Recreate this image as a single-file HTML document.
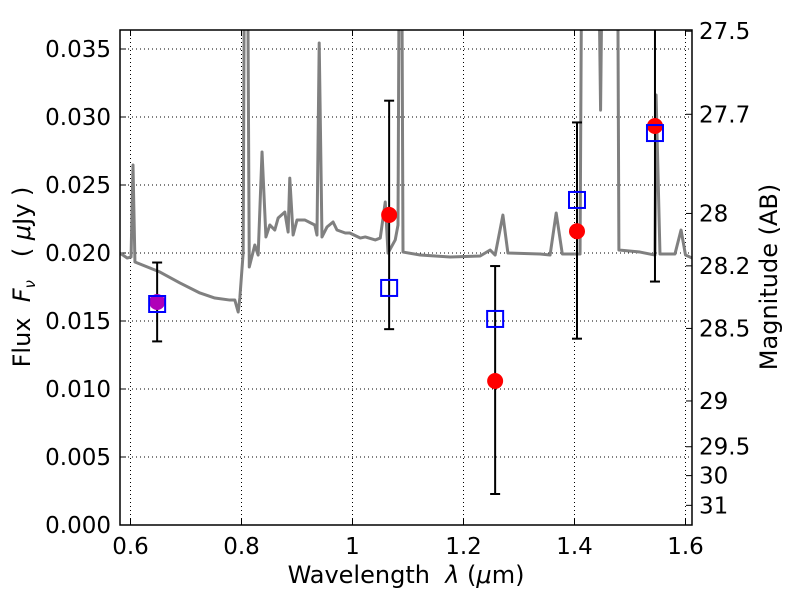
<!DOCTYPE html>
<html><head><meta charset="utf-8"><style>
body{margin:0;background:#fff}
svg text{font-family:"DejaVu Sans","Liberation Sans",sans-serif;fill:#000;white-space:pre}
</style></head><body>
<svg id="chart" width="800" height="600" xmlns="http://www.w3.org/2000/svg"></svg>
<script>
const specWl=[0.581,0.594,0.601,0.6045,0.608,0.635,0.653,0.689,0.725,0.752,0.779,0.788,0.794,0.797,0.803,0.806,0.810,0.814,0.824,0.830,0.837,0.844,0.851,0.860,0.866,0.878,0.884,0.887,0.893,0.900,0.914,0.932,0.936,0.940,0.945,0.954,0.965,0.972,0.987,0.995,1.014,1.023,1.041,1.050,1.059,1.064,1.077,1.082,1.085,1.088,1.091,1.122,1.176,1.230,1.248,1.257,1.271,1.280,1.338,1.356,1.367,1.378,1.410,1.414,1.441,1.447,1.452,1.477,1.480,1.518,1.545,1.547,1.554,1.581,1.592,1.600,1.612];
const specFlux=[0.0200,0.01963,0.0197,0.02647,0.01934,0.0189,0.0186,0.0178,0.01706,0.01669,0.01654,0.01654,0.01566,0.01669,0.02,0.05,0.05,0.01897,0.02059,0.01985,0.02743,0.02118,0.02206,0.02169,0.02257,0.02301,0.02154,0.02551,0.02132,0.02243,0.02243,0.02206,0.02132,0.03544,0.02118,0.02191,0.02228,0.02169,0.02147,0.02147,0.0211,0.02118,0.02096,0.0211,0.02375,0.0200,0.02096,0.02206,0.05,0.05,0.02007,0.01985,0.01971,0.01978,0.02022,0.01985,0.02279,0.0200,0.01993,0.01985,0.02294,0.01993,0.01993,0.05,0.05,0.03051,0.05,0.05,0.02022,0.02007,0.01985,0.03162,0.01993,0.01993,0.02169,0.01985,0.01963];
const bandWl=[0.648,1.066,1.257,1.4045,1.545];
const obsFlux=[0.0164,0.0228,0.01059,0.0216,0.02934];
const errLo=[0.0135,0.0144,0.00228,0.0137,0.0179];
const errHi=[0.0193,0.0312,0.01904,0.0296,0.040];
const modelFlux=[0.01625,0.01743,0.01515,0.0239,0.02882];
const xTicks=[0.6,0.8,1.0,1.2,1.4,1.6];
const xTickLabels=["0.6","0.8","1","1.2","1.4","1.6"];
const yTicks=[0,0.005,0.01,0.015,0.02,0.025,0.03,0.035];
const yTickLabels=["0.000","0.005","0.010","0.015","0.020","0.025","0.030","0.035"];
const magTicks=[27.5,27.7,28,28.2,28.5,29,29.5,30,31];
const magTickLabels=["27.5","27.7","28","28.2","28.5","29","29.5","30","31"];

const L=120,R=692,T=30,B=525;
const X=v=>130.5+(v-0.6)*555;
const Y=v=>B-v*13600;
const svg=document.getElementById('chart');
const NS='http://www.w3.org/2000/svg';
function mk(tag,attrs,parent){const e=document.createElementNS(NS,tag);for(const k in attrs)e.setAttribute(k,attrs[k]);(parent||svg).appendChild(e);return e;}
const defs=mk('defs',{});const cp=mk('clipPath',{id:'clip'},defs);mk('rect',{x:L,y:T,width:R-L,height:B-T},cp);

const FS=23;
const grid=mk('g',{});


xTicks.forEach((t,i)=>{
  const l=mk('line',{x1:X(t),x2:X(t),y1:T,y2:B,stroke:'#000','stroke-width':1,'stroke-dasharray':'1,3'},grid);
  
  
  mk('line',{x1:X(t),x2:X(t),y1:B,y2:B-6,stroke:'#000'},grid);
  mk('line',{x1:X(t),x2:X(t),y1:T,y2:T+6,stroke:'#000'},grid);
  const tx=mk('text',{x:X(t),y:554,'font-size':FS,'text-anchor':'middle'});
  tx.textContent=xTickLabels[i];
  
  
});
yTicks.forEach((t,i)=>{
  const l=mk('line',{x1:L,x2:R,y1:Y(t),y2:Y(t),stroke:'#000','stroke-width':1,'stroke-dasharray':'1,3'},grid);
  
  
  mk('line',{x1:L,x2:L+6,y1:Y(t),y2:Y(t),stroke:'#000'},grid);
  const tx=mk('text',{x:111,y:Y(t)+8,'font-size':FS,'text-anchor':'end'});
  tx.textContent=yTickLabels[i];
  
  
});
magTicks.forEach((m,i)=>{
  const f=Math.pow(10,(23.9-m)/2.5);
  mk('line',{x1:R,x2:R-6,y1:Y(f),y2:Y(f),stroke:'#000'});
  const tx=mk('text',{x:699,y:Y(f)+8,'font-size':FS});
  tx.textContent=magTickLabels[i];
  
  
});

const plot=mk('g',{'clip-path':'url(#clip)'});
const sp=mk('polyline',{points:specWl.map((w,i)=>X(w)+','+Y(specFlux[i])).join(' '),fill:'none',stroke:'#808080','stroke-width':3,'stroke-linejoin':'round'},plot);


bandWl.forEach((w,i)=>{
  const g=mk('g',{},plot);
  
  
  mk('line',{x1:X(w),x2:X(w),y1:Y(errLo[i]),y2:Y(errHi[i]),stroke:'#000','stroke-width':2},g);
  mk('line',{x1:X(w)-5,x2:X(w)+5,y1:Y(errLo[i]),y2:Y(errLo[i]),stroke:'#000','stroke-width':2},g);
  mk('line',{x1:X(w)-5,x2:X(w)+5,y1:Y(errHi[i]),y2:Y(errHi[i]),stroke:'#000','stroke-width':2},g);
});
bandWl.forEach((w,i)=>{
  const c=mk('circle',{cx:X(w),cy:Y(obsFlux[i]),r:8,fill:i===0?'#b000b8':'#ff0000'},plot);
  
  
  const s=mk('rect',{x:X(w)-8,y:Y(modelFlux[i])-8,width:16,height:16,fill:'none',stroke:'#0000ff','stroke-width':2},plot);
  
  
});
const fr=mk('rect',{x:L,y:T,width:R-L,height:B-T,fill:'none',stroke:'#000','stroke-width':1.5});



const xl=mk('text',{x:406,y:583,'font-size':24,'text-anchor':'middle'});
xl.innerHTML='Wavelength  <tspan font-style="italic">λ</tspan> (<tspan font-style="italic">μ</tspan>m)';


const yl=mk('text',{x:0,y:0,'font-size':24,'text-anchor':'middle',transform:'translate(30,277) rotate(-90)'});
yl.innerHTML='Flux  <tspan font-style="italic">F</tspan><tspan font-style="italic" font-size="15" dy="5">ν</tspan><tspan dy="-5">   ( </tspan><tspan font-style="italic">μ</tspan>Jy )';


const rl=mk('text',{x:0,y:0,'font-size':24,'text-anchor':'middle',transform:'translate(777,277) rotate(-90)'});
rl.textContent='Magnitude (AB)';


</script>
</body></html>
